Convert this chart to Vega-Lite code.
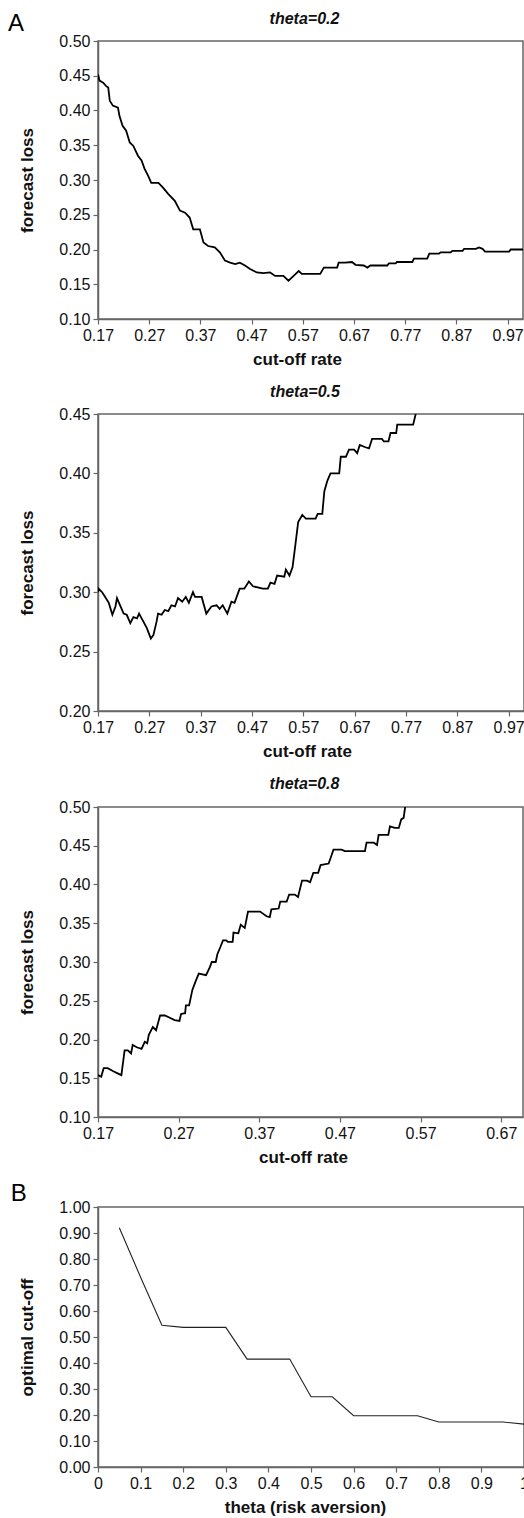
{
  "$schema": "https://vega.github.io/schema/vega-lite/v6.json",
  "padding": {"left": 8, "top": 10, "right": 0, "bottom": 0},
  "title": {"text": "A", "anchor": "start", "frame": "bounds", "fontSize": 24, "fontStyle": "normal", "fontWeight": "normal", "offset": -26, "dx": -2, "color": "#000"},
  "datasets": {
    "p1": [
      {"rate":0.170,"loss":0.452},{"rate":0.173,"loss":0.443},{"rate":0.180,"loss":0.440},{"rate":0.186,"loss":0.435},{"rate":0.190,"loss":0.433},{"rate":0.193,"loss":0.414},{"rate":0.199,"loss":0.407},{"rate":0.209,"loss":0.404},{"rate":0.212,"loss":0.392},{"rate":0.218,"loss":0.378},{"rate":0.225,"loss":0.371},{"rate":0.232,"loss":0.354},{"rate":0.239,"loss":0.349},{"rate":0.248,"loss":0.335},{"rate":0.255,"loss":0.328},{"rate":0.261,"loss":0.316},{"rate":0.268,"loss":0.306},{"rate":0.274,"loss":0.296},{"rate":0.288,"loss":0.296},{"rate":0.297,"loss":0.289},{"rate":0.307,"loss":0.280},{"rate":0.320,"loss":0.270},{"rate":0.330,"loss":0.256},{"rate":0.340,"loss":0.253},{"rate":0.349,"loss":0.246},{"rate":0.356,"loss":0.229},{"rate":0.369,"loss":0.229},{"rate":0.376,"loss":0.210},{"rate":0.385,"loss":0.205},{"rate":0.398,"loss":0.203},{"rate":0.408,"loss":0.196},{"rate":0.418,"loss":0.184},{"rate":0.428,"loss":0.181},{"rate":0.438,"loss":0.179},{"rate":0.447,"loss":0.181},{"rate":0.457,"loss":0.177},{"rate":0.467,"loss":0.172},{"rate":0.480,"loss":0.167},{"rate":0.493,"loss":0.166},{"rate":0.506,"loss":0.167},{"rate":0.516,"loss":0.162},{"rate":0.532,"loss":0.162},{"rate":0.542,"loss":0.155},{"rate":0.552,"loss":0.162},{"rate":0.562,"loss":0.169},{"rate":0.568,"loss":0.165},{"rate":0.604,"loss":0.165},{"rate":0.611,"loss":0.174},{"rate":0.637,"loss":0.174},{"rate":0.640,"loss":0.181},{"rate":0.653,"loss":0.181},{"rate":0.666,"loss":0.182},{"rate":0.673,"loss":0.178},{"rate":0.689,"loss":0.177},{"rate":0.696,"loss":0.174},{"rate":0.702,"loss":0.177},{"rate":0.735,"loss":0.177},{"rate":0.738,"loss":0.180},{"rate":0.751,"loss":0.180},{"rate":0.754,"loss":0.182},{"rate":0.784,"loss":0.182},{"rate":0.787,"loss":0.187},{"rate":0.813,"loss":0.187},{"rate":0.817,"loss":0.194},{"rate":0.836,"loss":0.194},{"rate":0.839,"loss":0.196},{"rate":0.859,"loss":0.196},{"rate":0.862,"loss":0.198},{"rate":0.882,"loss":0.198},{"rate":0.885,"loss":0.201},{"rate":0.908,"loss":0.201},{"rate":0.914,"loss":0.203},{"rate":0.921,"loss":0.201},{"rate":0.926,"loss":0.197},{"rate":0.973,"loss":0.197},{"rate":0.976,"loss":0.200},{"rate":1.000,"loss":0.200}
    ],
    "p2": [
      {"rate":0.170,"loss":0.300},{"rate":0.171,"loss":0.303},{"rate":0.178,"loss":0.300},{"rate":0.184,"loss":0.296},{"rate":0.191,"loss":0.291},{"rate":0.198,"loss":0.281},{"rate":0.204,"loss":0.288},{"rate":0.207,"loss":0.295},{"rate":0.213,"loss":0.289},{"rate":0.220,"loss":0.282},{"rate":0.226,"loss":0.281},{"rate":0.233,"loss":0.274},{"rate":0.239,"loss":0.279},{"rate":0.246,"loss":0.278},{"rate":0.250,"loss":0.282},{"rate":0.255,"loss":0.278},{"rate":0.265,"loss":0.270},{"rate":0.273,"loss":0.261},{"rate":0.278,"loss":0.264},{"rate":0.284,"loss":0.275},{"rate":0.287,"loss":0.282},{"rate":0.294,"loss":0.281},{"rate":0.300,"loss":0.285},{"rate":0.307,"loss":0.284},{"rate":0.313,"loss":0.289},{"rate":0.320,"loss":0.288},{"rate":0.326,"loss":0.295},{"rate":0.334,"loss":0.292},{"rate":0.341,"loss":0.296},{"rate":0.347,"loss":0.291},{"rate":0.355,"loss":0.300},{"rate":0.359,"loss":0.296},{"rate":0.372,"loss":0.296},{"rate":0.381,"loss":0.282},{"rate":0.391,"loss":0.288},{"rate":0.401,"loss":0.289},{"rate":0.407,"loss":0.286},{"rate":0.413,"loss":0.289},{"rate":0.422,"loss":0.282},{"rate":0.430,"loss":0.292},{"rate":0.436,"loss":0.291},{"rate":0.446,"loss":0.303},{"rate":0.455,"loss":0.303},{"rate":0.464,"loss":0.309},{"rate":0.472,"loss":0.305},{"rate":0.491,"loss":0.303},{"rate":0.501,"loss":0.303},{"rate":0.506,"loss":0.308},{"rate":0.514,"loss":0.307},{"rate":0.519,"loss":0.314},{"rate":0.533,"loss":0.313},{"rate":0.536,"loss":0.319},{"rate":0.543,"loss":0.314},{"rate":0.549,"loss":0.321},{"rate":0.554,"loss":0.338},{"rate":0.560,"loss":0.359},{"rate":0.568,"loss":0.365},{"rate":0.575,"loss":0.362},{"rate":0.594,"loss":0.362},{"rate":0.598,"loss":0.366},{"rate":0.607,"loss":0.366},{"rate":0.611,"loss":0.385},{"rate":0.617,"loss":0.394},{"rate":0.623,"loss":0.400},{"rate":0.640,"loss":0.400},{"rate":0.643,"loss":0.414},{"rate":0.653,"loss":0.414},{"rate":0.659,"loss":0.420},{"rate":0.669,"loss":0.420},{"rate":0.675,"loss":0.417},{"rate":0.680,"loss":0.424},{"rate":0.691,"loss":0.422},{"rate":0.698,"loss":0.421},{"rate":0.704,"loss":0.429},{"rate":0.723,"loss":0.429},{"rate":0.727,"loss":0.427},{"rate":0.736,"loss":0.427},{"rate":0.740,"loss":0.434},{"rate":0.751,"loss":0.434},{"rate":0.753,"loss":0.441},{"rate":0.784,"loss":0.441},{"rate":0.789,"loss":0.450},{"rate":0.795,"loss":0.458}
    ],
    "p3": [
      {"rate":0.170,"loss":0.154},{"rate":0.174,"loss":0.152},{"rate":0.177,"loss":0.163},{"rate":0.182,"loss":0.163},{"rate":0.189,"loss":0.159},{"rate":0.195,"loss":0.156},{"rate":0.199,"loss":0.154},{"rate":0.203,"loss":0.186},{"rate":0.207,"loss":0.186},{"rate":0.211,"loss":0.182},{"rate":0.213,"loss":0.193},{"rate":0.218,"loss":0.190},{"rate":0.224,"loss":0.188},{"rate":0.228,"loss":0.197},{"rate":0.231,"loss":0.195},{"rate":0.233,"loss":0.206},{"rate":0.236,"loss":0.212},{"rate":0.238,"loss":0.216},{"rate":0.242,"loss":0.212},{"rate":0.247,"loss":0.231},{"rate":0.253,"loss":0.231},{"rate":0.259,"loss":0.228},{"rate":0.265,"loss":0.225},{"rate":0.271,"loss":0.224},{"rate":0.273,"loss":0.233},{"rate":0.278,"loss":0.234},{"rate":0.279,"loss":0.244},{"rate":0.283,"loss":0.244},{"rate":0.287,"loss":0.264},{"rate":0.291,"loss":0.275},{"rate":0.295,"loss":0.285},{"rate":0.304,"loss":0.283},{"rate":0.309,"loss":0.294},{"rate":0.311,"loss":0.300},{"rate":0.316,"loss":0.300},{"rate":0.318,"loss":0.310},{"rate":0.322,"loss":0.320},{"rate":0.325,"loss":0.328},{"rate":0.329,"loss":0.328},{"rate":0.331,"loss":0.326},{"rate":0.337,"loss":0.326},{"rate":0.338,"loss":0.338},{"rate":0.344,"loss":0.337},{"rate":0.347,"loss":0.348},{"rate":0.352,"loss":0.344},{"rate":0.356,"loss":0.365},{"rate":0.371,"loss":0.365},{"rate":0.379,"loss":0.359},{"rate":0.383,"loss":0.358},{"rate":0.385,"loss":0.368},{"rate":0.394,"loss":0.369},{"rate":0.396,"loss":0.378},{"rate":0.404,"loss":0.378},{"rate":0.407,"loss":0.387},{"rate":0.414,"loss":0.387},{"rate":0.418,"loss":0.384},{"rate":0.423,"loss":0.405},{"rate":0.429,"loss":0.405},{"rate":0.433,"loss":0.403},{"rate":0.437,"loss":0.415},{"rate":0.443,"loss":0.415},{"rate":0.446,"loss":0.425},{"rate":0.456,"loss":0.427},{"rate":0.458,"loss":0.433},{"rate":0.462,"loss":0.445},{"rate":0.472,"loss":0.445},{"rate":0.476,"loss":0.443},{"rate":0.501,"loss":0.443},{"rate":0.503,"loss":0.454},{"rate":0.512,"loss":0.454},{"rate":0.516,"loss":0.451},{"rate":0.518,"loss":0.464},{"rate":0.530,"loss":0.464},{"rate":0.532,"loss":0.475},{"rate":0.538,"loss":0.473},{"rate":0.543,"loss":0.473},{"rate":0.546,"loss":0.484},{"rate":0.549,"loss":0.486},{"rate":0.551,"loss":0.501},{"rate":0.553,"loss":0.510}
    ],
    "pb": [
      {"theta":0.05,"cutoff":0.92},{"theta":0.10,"cutoff":0.73},{"theta":0.15,"cutoff":0.545},{"theta":0.20,"cutoff":0.537},{"theta":0.25,"cutoff":0.537},{"theta":0.30,"cutoff":0.537},{"theta":0.35,"cutoff":0.415},{"theta":0.40,"cutoff":0.415},{"theta":0.45,"cutoff":0.415},{"theta":0.50,"cutoff":0.27},{"theta":0.55,"cutoff":0.27},{"theta":0.60,"cutoff":0.197},{"theta":0.65,"cutoff":0.197},{"theta":0.70,"cutoff":0.197},{"theta":0.75,"cutoff":0.197},{"theta":0.80,"cutoff":0.173},{"theta":0.85,"cutoff":0.173},{"theta":0.90,"cutoff":0.173},{"theta":0.95,"cutoff":0.173},{"theta":1.00,"cutoff":0.165}
    ]
  },
  "vconcat": [
    {
      "width": 425, "height": 278,
      "title": {"text": "theta=0.2"},
      "data": {"name": "p1"},
      "mark": {"type": "line", "color": "#000", "strokeWidth": 1.8, "clip": true},
      "encoding": {
        "x": {"field": "rate", "type": "quantitative", "scale": {"domain": [0.17, 1.0], "nice": false, "zero": false},
              "axis": {"values": [0.17,0.27,0.37,0.47,0.57,0.67,0.77,0.87,0.97], "format": ".2f", "title": "cut-off rate", "titleX": 199}},
        "y": {"field": "loss", "type": "quantitative", "scale": {"domain": [0.1, 0.5], "nice": false, "zero": false},
              "axis": {"values": [0.1,0.15,0.2,0.25,0.3,0.35,0.4,0.45,0.5], "format": ".2f", "title": "forecast loss"}}
      }
    },
    {
      "width": 426, "height": 297,
      "title": {"text": "theta=0.5"},
      "data": {"name": "p2"},
      "mark": {"type": "line", "color": "#000", "strokeWidth": 1.8, "clip": true},
      "encoding": {
        "x": {"field": "rate", "type": "quantitative", "scale": {"domain": [0.17, 1.0], "nice": false, "zero": false},
              "axis": {"values": [0.17,0.27,0.37,0.47,0.57,0.67,0.77,0.87,0.97], "format": ".2f", "title": "cut-off rate", "titleX": 209}},
        "y": {"field": "loss", "type": "quantitative", "scale": {"domain": [0.2, 0.45], "nice": false, "zero": false},
              "axis": {"values": [0.2,0.25,0.3,0.35,0.4,0.45], "format": ".2f", "title": "forecast loss"}}
      }
    },
    {
      "width": 425, "height": 310,
      "title": {"text": "theta=0.8", "offset": 7},
      "data": {"name": "p3"},
      "mark": {"type": "line", "color": "#000", "strokeWidth": 1.8, "clip": true},
      "encoding": {
        "x": {"field": "rate", "type": "quantitative", "scale": {"domain": [0.17, 0.697], "nice": false, "zero": false},
              "axis": {"values": [0.17,0.27,0.37,0.47,0.57,0.67], "format": ".2f", "title": "cut-off rate", "titleX": 205}},
        "y": {"field": "loss", "type": "quantitative", "scale": {"domain": [0.1, 0.5], "nice": false, "zero": false},
              "axis": {"values": [0.1,0.15,0.2,0.25,0.3,0.35,0.4,0.45,0.5], "format": ".2f", "title": "forecast loss"}}
      }
    },
    {
      "width": 426, "height": 260,
      "title": {"text": "B", "anchor": "start", "frame": "bounds", "fontSize": 24, "fontStyle": "normal", "fontWeight": "normal", "dx": -8, "offset": -7, "color": "#000"},
      "data": {"name": "pb"},
      "mark": {"type": "line", "color": "#222", "strokeWidth": 1.1},
      "encoding": {
        "x": {"field": "theta", "type": "quantitative", "scale": {"domain": [0, 1], "nice": false, "zero": false},
              "axis": {"values": [0,0.1,0.2,0.3,0.4,0.5,0.6,0.7,0.8,0.9,1], "format": "~g", "title": "theta (risk aversion)", "titleX": 207}},
        "y": {"field": "cutoff", "type": "quantitative", "scale": {"domain": [0, 1], "nice": false, "zero": false},
              "axis": {"values": [0,0.1,0.2,0.3,0.4,0.5,0.6,0.7,0.8,0.9,1], "format": ".2f", "title": "optimal cut-off"}}
      }
    }
  ],
  "config": {
    "font": "Liberation Sans",
    "view": {"stroke": "#666", "strokeWidth": 1.5},
    "axis": {"grid": false, "domainColor": "#666", "domainWidth": 1.5, "tickColor": "#666", "tickSize": 5, "tickWidth": 1.2,
             "labelFont": "Liberation Sans", "labelFontSize": 16, "labelColor": "#111", "labelFlush": false, "labelPadding": 3, "labelOverlap": false,
             "titleFont": "Liberation Sans", "titleFontSize": 17, "titleFontWeight": "bold", "titleColor": "#111"},
    "axisY": {"titlePadding": 22, "labelPadding": 3},
    "axisX": {"titlePadding": 8},
    "title": {"font": "Liberation Sans", "fontSize": 16, "fontStyle": "italic", "fontWeight": "bold", "color": "#111", "offset": 6, "frame": "group", "dx": -6},
    "concat": {"spacing": 15}
  }
}
